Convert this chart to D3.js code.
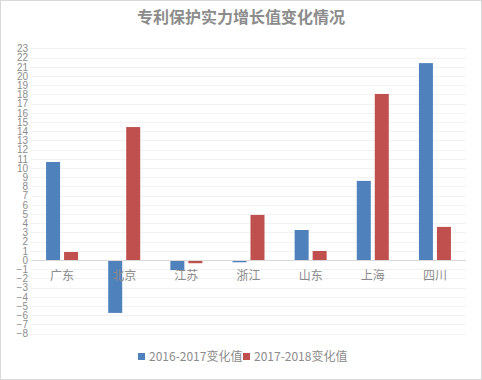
<!DOCTYPE html>
<html>
<head>
<meta charset="utf-8">
<script src="https://cdn.jsdelivr.net/npm/d3@7"></script>
<style>
  body { margin: 0; background: #fff; }
  svg { display: block; }
</style>
</head>
<body>
<div id="chart"></div>
<script>
const categories = ["广东", "北京", "江苏", "浙江", "山东", "上海", "四川"];
const seriesNames = ["2016-2017变化值", "2017-2018变化值"];
const values2016 = [10.65, -5.75, -1.1, -0.25, 3.26, 8.6, 21.4];
const values2017 = [0.87, 14.45, -0.35, 4.9, 0.98, 18.05, 3.6];
const yTicks = d3.range(-8, 24);
const colors = ["#4f81bd", "#c0504d"];

const width = 482, height = 380;
const data = categories.map((c, i) => ({ cat: c, vals: [values2016[i], values2017[i]] }));

const svg = d3.select("#chart").append("svg")
    .attr("width", width)
    .attr("height", height);

svg.append("rect")
    .attr("x", 0.5).attr("y", 0.5)
    .attr("width", width - 1).attr("height", height - 1)
    .attr("fill", "#fff")
    .attr("stroke", "#d9d9d9");

// title
svg.append("text")
    .attr("x", 241).attr("y", 23)
    .attr("text-anchor", "middle")
    .attr("font-family", "'Noto Sans CJK SC', sans-serif")
    .attr("font-size", 16)
    .attr("font-weight", "bold")
    .attr("fill", "#8c8c8c")
    .text("专利保护实力增长值变化情况");

const x = d3.scaleBand()
    .domain(categories)
    .range([31, 466])
    .paddingInner(0.485)
    .paddingOuter(0.2425);

const xSub = d3.scaleBand()
    .domain([0, 1])
    .range([0, x.bandwidth()])
    .paddingInner(0.222);

const y = d3.scaleLinear()
    .domain([-8, 23])
    .range([333.6, 48.4]);

// gridlines
svg.append("g")
    .selectAll("line")
    .data(yTicks)
    .enter().append("line")
    .attr("x1", 31).attr("x2", 466)
    .attr("y1", d => Math.round(y(d)) + 0.5)
    .attr("y2", d => Math.round(y(d)) + 0.5)
    .attr("stroke", "#f2f2f2");

// y axis labels
const yAxis = svg.append("g")
    .attr("transform", "translate(31,0)")
    .call(d3.axisLeft(y).tickValues(yTicks).tickSize(0).tickPadding(3));
yAxis.select(".domain").remove();
yAxis.selectAll("text")
    .attr("font-family", "'Liberation Sans', sans-serif")
    .attr("font-size", 10)
    .attr("fill", "#8c8c8c");

// bars
const groups = svg.append("g")
    .selectAll("g")
    .data(data)
    .enter().append("g")
    .attr("transform", d => `translate(${x(d.cat)},0)`);

groups.selectAll("rect")
    .data(d => d.vals.map((v, i) => ({ v, i })))
    .enter().append("rect")
    .attr("x", d => xSub(d.i))
    .attr("width", xSub.bandwidth())
    .attr("y", d => y(Math.max(0, d.v)))
    .attr("height", d => Math.abs(y(d.v) - y(0)))
    .attr("fill", d => colors[d.i]);

// zero line
svg.append("line")
    .attr("x1", 31).attr("x2", 466)
    .attr("y1", Math.round(y(0)) + 0.5)
    .attr("y2", Math.round(y(0)) + 0.5)
    .attr("stroke", "#d9d9d9");

// category labels
svg.append("g")
    .selectAll("text")
    .data(categories)
    .enter().append("text")
    .attr("x", d => x(d) + x.bandwidth() / 2)
    .attr("y", y(0) + 20)
    .attr("text-anchor", "middle")
    .attr("font-family", "'Noto Sans CJK SC', sans-serif")
    .attr("font-size", 12)
    .attr("fill", "#8c8c8c")
    .text(d => d);

// legend
const legendX = [138, 243];
const legend = svg.append("g")
    .selectAll("g")
    .data(seriesNames)
    .enter().append("g")
    .attr("transform", (d, i) => `translate(${legendX[i]},353)`);

legend.append("rect")
    .attr("width", 7).attr("height", 7)
    .attr("fill", (d, i) => colors[i]);

legend.append("text")
    .attr("x", 11).attr("y", 8)
    .attr("font-family", "'Noto Sans CJK SC', sans-serif")
    .attr("font-size", 12)
    .attr("fill", "#8c8c8c")
    .text(d => d);
</script>
</body>
</html>
